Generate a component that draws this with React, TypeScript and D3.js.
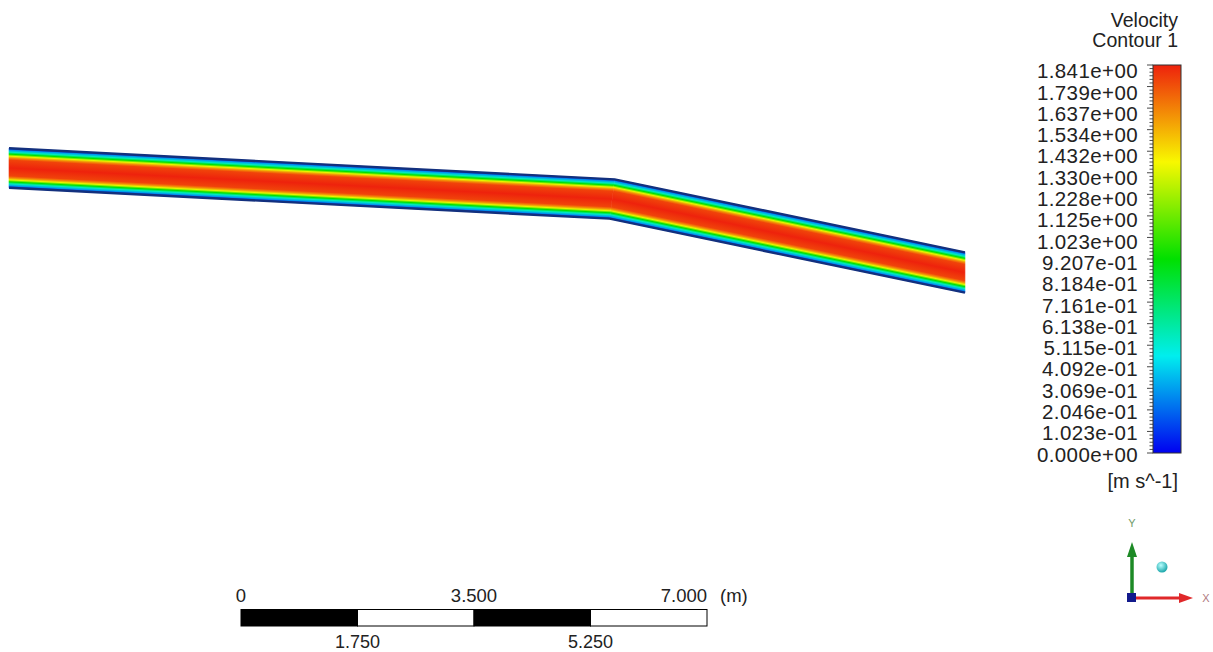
import { useEffect, useRef } from 'react'
import * as d3 from 'd3'

const WIDTH = 1213
const HEIGHT = 652
const FONT = 'Liberation Sans, Arial, sans-serif'

// Channel centerline in metres (origin = inlet centre), vertical ends
const centerlineX = [0, 9.06, 14.36]
const centerlineY = [0, -0.466, -1.57]
const channelWidth = 0.593

// Velocity across the channel section, wall (0) -> wall (1), m/s
const profilePos = [0, 0.05, 0.1, 0.15, 0.2, 0.25, 0.3, 0.5, 0.7, 0.75, 0.8, 0.85, 0.9, 0.95, 1]
const profileVel = [0.05, 0.3, 0.55, 0.92, 1.35, 1.62, 1.77, 1.841, 1.77, 1.62, 1.35, 0.92, 0.55, 0.3, 0.05]

// Rainbow colour map
const colorPos = [0, 0.25, 0.5, 0.75, 1]
const colorStops = ['#0000f0', '#00eeee', '#00e000', '#f8f800', '#ee220c']

const legendTitle = ['Velocity', 'Contour 1']
const legendUnit = '[m s^-1]'
const legendLabels = [
  '1.841e+00', '1.739e+00', '1.637e+00', '1.534e+00', '1.432e+00', '1.330e+00',
  '1.228e+00', '1.125e+00', '1.023e+00', '9.207e-01', '8.184e-01', '7.161e-01',
  '6.138e-01', '5.115e-01', '4.092e-01', '3.069e-01', '2.046e-01', '1.023e-01',
  '0.000e+00',
]
const vMax = 1.841

// Scale bar (metres)
const scaleBarValues = [0, 1.75, 3.5, 5.25, 7]
const scaleBarTop = ['0', '3.500', '7.000']
const scaleBarBottom = ['1.750', '5.250']

const App = () => {
  const svgRef = useRef<SVGSVGElement | null>(null)

  useEffect(() => {
    const svg = d3.select(svgRef.current)
    svg.selectAll('*').remove()
    const defs = svg.append('defs')

    const pxPerM = 466 / 7
    const xScale = d3.scaleLinear().domain([0, 1]).range([9, 9 + pxPerM])
    const yScale = d3.scaleLinear().domain([0, 1]).range([168, 168 - pxPerM])
    const color = d3
      .scaleLinear<string>()
      .domain(colorPos.map((p) => p * vMax))
      .range(colorStops)
      .interpolate(d3.interpolateRgb)

    // ---------- channel ----------
    const pts = centerlineX.map((x, i) => [xScale(x), yScale(centerlineY[i])])
    const h = (channelWidth * pxPerM) / 2
    const segs = d3.pairs(pts).map(([a, b]) => {
      const len = Math.hypot(b[0] - a[0], b[1] - a[1])
      const d = [(b[0] - a[0]) / len, (b[1] - a[1]) / len]
      const n = [d[1], -d[0]]
      return { a, b, d, n }
    })
    const offsetPt = (s: any, sign: number) => [s.a[0] + s.n[0] * h * sign, s.a[1] + s.n[1] * h * sign]
    const atX = (s: any, sign: number, x: number) => {
      const p = offsetPt(s, sign)
      const t = (x - p[0]) / s.d[0]
      return [p[0] + t * s.d[0], p[1] + t * s.d[1]]
    }
    const intersect = (s1: any, s2: any, sign: number) => {
      const p = offsetPt(s1, sign)
      const q = offsetPt(s2, sign)
      const r = s1.d
      const s = s2.d
      const den = r[0] * s[1] - r[1] * s[0]
      const t = ((q[0] - p[0]) * s[1] - (q[1] - p[1]) * s[0]) / den
      return [p[0] + t * r[0], p[1] + t * r[1]]
    }
    const last = pts.length - 1
    const top = [atX(segs[0], 1, pts[0][0])]
    const bot = [atX(segs[0], -1, pts[0][0])]
    for (let i = 1; i < segs.length; i++) {
      top.push(intersect(segs[i - 1], segs[i], 1))
      bot.push(intersect(segs[i - 1], segs[i], -1))
    }
    top.push(atX(segs[segs.length - 1], 1, pts[last][0]))
    bot.push(atX(segs[segs.length - 1], -1, pts[last][0]))

    const channel = svg.append('g')
    segs.forEach((s, i) => {
      const mid = [(s.a[0] + s.b[0]) / 2, (s.a[1] + s.b[1]) / 2]
      const g = defs
        .append('linearGradient')
        .attr('id', `seg-grad-${i}`)
        .attr('gradientUnits', 'userSpaceOnUse')
        .attr('x1', mid[0] + s.n[0] * h)
        .attr('y1', mid[1] + s.n[1] * h)
        .attr('x2', mid[0] - s.n[0] * h)
        .attr('y2', mid[1] - s.n[1] * h)
      profilePos.forEach((p, k) => {
        g.append('stop').attr('offset', p).attr('stop-color', color(profileVel[k]))
      })
      const quad = [top[i], top[i + 1], bot[i + 1], bot[i]]
      channel
        .append('path')
        .attr('d', 'M' + quad.map((q) => q.join(',')).join('L') + 'Z')
        .attr('fill', `url(#seg-grad-${i})`)
        .attr('stroke', `url(#seg-grad-${i})`)
        .attr('stroke-width', 0.6)
    })
    const wall = d3.line()
    ;[top, bot].forEach((edge) => {
      channel
        .append('path')
        .attr('d', wall(edge as [number, number][]))
        .attr('fill', 'none')
        .attr('stroke', '#13307e')
        .attr('stroke-width', 2.4)
    })

    // ---------- legend ----------
    const legend = svg.append('g').style('font-family', FONT)
    legendTitle.forEach((t, i) => {
      legend
        .append('text')
        .attr('x', 1178)
        .attr('y', 27 + i * 20)
        .attr('text-anchor', 'end')
        .style('font-size', '19.5px')
        .style('fill', '#222')
        .text(t)
    })
    const barScale = d3.scaleLinear().domain([0, vMax]).range([453, 65])
    const labelScale = d3.scaleLinear().domain([0, vMax]).range([461.7, 78.3])
    const lg = defs
      .append('linearGradient')
      .attr('id', 'legend-grad')
      .attr('x1', 0)
      .attr('y1', 1)
      .attr('x2', 0)
      .attr('y2', 0)
    colorPos.forEach((p, i) => {
      lg.append('stop').attr('offset', p).attr('stop-color', colorStops[i])
    })
    legend
      .append('rect')
      .attr('x', 1153)
      .attr('y', barScale(vMax))
      .attr('width', 28)
      .attr('height', barScale(0) - barScale(vMax))
      .attr('fill', 'url(#legend-grad)')
      .attr('stroke', '#333')
      .attr('stroke-width', 1)
    const minor = d3.range(0, (legendLabels.length - 1) * 6 + 1)
    const tickScale = d3.scaleLinear().domain([0, minor.length - 1]).range([barScale(0), barScale(vMax)])
    legend
      .selectAll('.tick')
      .data(minor)
      .enter()
      .append('line')
      .attr('x1', (d) => (d % 6 === 0 ? 1147 : 1149.5))
      .attr('x2', 1153)
      .attr('y1', (d) => tickScale(d))
      .attr('y2', (d) => tickScale(d))
      .attr('stroke', '#333')
      .attr('stroke-width', 0.9)
    legend
      .selectAll('.label')
      .data(legendLabels)
      .enter()
      .append('text')
      .attr('x', 1138)
      .attr('y', (d) => labelScale(+d))
      .attr('text-anchor', 'end')
      .style('font-size', '20.5px')
      .style('letter-spacing', '0.4px')
      .style('fill', '#222')
      .text((d) => d)
    legend
      .append('text')
      .attr('x', 1178)
      .attr('y', 488)
      .attr('text-anchor', 'end')
      .style('font-size', '20px')
      .style('fill', '#222')
      .text(legendUnit)

    // ---------- scale bar ----------
    const sb = svg.append('g').style('font-family', FONT)
    const sbScale = d3.scaleLinear().domain([0, 7]).range([241, 707])
    d3.pairs(scaleBarValues).forEach(([a, b], i) => {
      sb.append('rect')
        .attr('x', sbScale(a))
        .attr('y', 609.5)
        .attr('width', sbScale(b) - sbScale(a))
        .attr('height', 16.5)
        .attr('fill', i % 2 === 0 ? '#000' : '#fff')
        .attr('stroke', '#000')
        .attr('stroke-width', 1)
    })
    scaleBarTop.forEach((t, i) => {
      sb.append('text')
        .attr('x', sbScale(+t))
        .attr('y', 601.7)
        .attr('text-anchor', i === 2 ? 'end' : 'middle')
        .style('font-size', '18.5px')
        .style('fill', '#222')
        .text(t)
    })
    sb.append('text')
      .attr('x', sbScale(7) + 13)
      .attr('y', 601.7)
      .style('font-size', '18.5px')
      .style('fill', '#222')
      .text('(m)')
    scaleBarBottom.forEach((t) => {
      sb.append('text')
        .attr('x', sbScale(+t))
        .attr('y', 647.5)
        .attr('text-anchor', 'middle')
        .style('font-size', '18px')
        .style('fill', '#222')
        .text(t)
    })

    // ---------- axis triad ----------
    const triad = svg.append('g').style('font-family', FONT)
    const rg = defs.append('radialGradient').attr('id', 'sphere').attr('cx', '40%').attr('cy', '35%').attr('r', '65%')
    rg.append('stop').attr('offset', 0).attr('stop-color', '#b8ffff')
    rg.append('stop').attr('offset', 1).attr('stop-color', '#1aa6aa')
    triad.append('line').attr('x1', 1132).attr('y1', 598).attr('x2', 1132).attr('y2', 555)
      .attr('stroke', '#1d8a26').attr('stroke-width', 3.5)
    triad.append('path').attr('d', 'M1132,542L1127,557L1137,557Z').attr('fill', '#1d8a26')
    triad.append('line').attr('x1', 1132).attr('y1', 598).attr('x2', 1181).attr('y2', 598)
      .attr('stroke', '#e0282a').attr('stroke-width', 3)
    triad.append('path').attr('d', 'M1193,598L1179,593L1179,603Z').attr('fill', '#e0282a')
    triad.append('rect').attr('x', 1127).attr('y', 593).attr('width', 9).attr('height', 9).attr('fill', '#121a8c')
    triad.append('circle').attr('cx', 1162).attr('cy', 567).attr('r', 5.5).attr('fill', 'url(#sphere)')
    triad.append('text').attr('x', 1132).attr('y', 527).attr('text-anchor', 'middle')
      .style('font-size', '11px').style('fill', '#6f9a68').text('Y')
    triad.append('text').attr('x', 1206).attr('y', 602).attr('text-anchor', 'middle')
      .style('font-size', '11px').style('fill', '#b07a80').text('X')
  }, [])

  return (
    <svg
      ref={svgRef}
      width={WIDTH}
      height={HEIGHT}
      style={{ position: 'absolute', left: 0, top: 0, background: '#fff' }}
    />
  )
}

export default App
